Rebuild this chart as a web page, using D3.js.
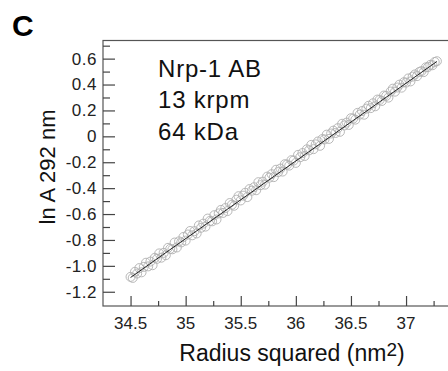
<!DOCTYPE html>
<html>
<head>
<meta charset="utf-8">
<script src="https://cdn.jsdelivr.net/npm/d3@7"></script>
<style>
  body { margin: 0; background: #fff; }
  svg { display: block; font-family: "Liberation Sans", Arial, Helvetica, sans-serif; }
</style>
</head>
<body>
<div id="chart"></div>
<script>
// radius squared (nm^2) of each scan point
var radiusSq = [34.50,34.52,34.54,34.56,34.58,34.60,34.62,34.64,34.66,34.68,
  34.70,34.72,34.74,34.76,34.78,34.80,34.82,34.84,34.86,34.88,
  34.90,34.92,34.94,34.96,34.98,35.00,35.02,35.04,35.06,35.08,
  35.10,35.12,35.14,35.16,35.18,35.20,35.22,35.24,35.26,35.28,
  35.30,35.32,35.34,35.36,35.38,35.40,35.42,35.44,35.46,35.48,
  35.50,35.52,35.54,35.56,35.58,35.60,35.62,35.64,35.66,35.68,
  35.70,35.72,35.74,35.76,35.78,35.80,35.82,35.84,35.86,35.88,
  35.90,35.92,35.94,35.96,35.98,36.00,36.02,36.04,36.06,36.08,
  36.10,36.12,36.14,36.16,36.18,36.20,36.22,36.24,36.26,36.28,
  36.30,36.32,36.34,36.36,36.38,36.40,36.42,36.44,36.46,36.48,
  36.50,36.52,36.54,36.56,36.58,36.60,36.62,36.64,36.66,36.68,
  36.70,36.72,36.74,36.76,36.78,36.80,36.82,36.84,36.86,36.88,
  36.90,36.92,36.94,36.96,36.98,37.00,37.02,37.04,37.06,37.08,
  37.10,37.12,37.14,37.16,37.18,37.20,37.22,37.24,37.26,37.28];

// ln A at 292 nm
var lnA = [-1.085,-1.093,-1.046,-1.059,-1.017,-1.050,-1.008,-0.976,-1.004,-0.967,
  -0.995,-0.938,-0.946,-0.904,-0.937,-0.900,-0.918,-0.861,-0.869,-0.872,
  -0.820,-0.858,-0.811,-0.819,-0.777,-0.805,-0.758,-0.731,-0.764,-0.732,
  -0.750,-0.688,-0.706,-0.674,-0.697,-0.635,-0.653,-0.656,-0.609,-0.642,
  -0.595,-0.568,-0.591,-0.554,-0.577,-0.515,-0.528,-0.536,-0.489,-0.462,
  -0.495,-0.458,-0.436,-0.469,-0.407,-0.420,-0.393,-0.416,-0.354,-0.377,
  -0.350,-0.373,-0.311,-0.319,-0.292,-0.315,-0.258,-0.276,-0.249,-0.272,
  -0.215,-0.218,-0.226,-0.184,-0.187,-0.205,-0.143,-0.161,-0.129,-0.152,
  -0.100,-0.108,-0.066,-0.099,-0.062,-0.040,-0.073,-0.021,-0.024,0.013,
  -0.020,0.022,0.044,0.026,0.063,0.035,0.097,0.084,0.106,0.088,
  0.140,0.137,0.129,0.181,0.168,0.195,0.167,0.214,0.236,0.218,
  0.255,0.232,0.284,0.281,0.273,0.315,0.312,0.299,0.346,0.368,
  0.345,0.377,0.399,0.376,0.418,0.415,0.447,0.424,0.461,0.478,
  0.465,0.497,0.504,0.496,0.533,0.535,0.552,0.549,0.574,0.580];

// fitted line end points
var fitX = [34.5, 37.28];
var fitY = [-1.09, 0.578];

var xTicks = [34.5, 35, 35.5, 36, 36.5, 37];
var xMinor = [34.75, 35.25, 35.75, 36.25, 36.75, 37.25];
var yTicks = [-1.2, -1.0, -0.8, -0.6, -0.4, -0.2, 0, 0.2, 0.4, 0.6];
var yMinor = [-1.1, -0.9, -0.7, -0.5, -0.3, -0.1, 0.1, 0.3, 0.5, 0.7];
var notes = ["Nrp-1 AB", "13 krpm", "64 kDa"];

var W = 448, H = 371;
var svg = d3.select("#chart").append("svg")
    .attr("width", W)
    .attr("height", H);

var plotL = 103, plotR = 450, plotT = 40.5, plotB = 306;

var x = d3.scaleLinear().domain([34.25, 37.4]).range([plotL, plotL + 110.2 * 3.15]);
var y = d3.scaleLinear().domain([-1.31, 0.74]).range([plotB, plotT]);

// frame
svg.append("rect")
    .attr("x", plotL).attr("y", plotT)
    .attr("width", plotR - plotL).attr("height", plotB - plotT)
    .attr("fill", "none").attr("stroke", "#555").attr("stroke-width", 1.2);

// x ticks, pointing in
svg.append("g").attr("transform", "translate(0," + plotB + ")")
    .call(d3.axisTop(x).tickValues(xTicks).tickSize(10).tickFormat(""))
    .select(".domain").remove();
svg.append("g").attr("transform", "translate(0," + plotB + ")")
    .call(d3.axisTop(x).tickValues(xMinor).tickSize(5).tickFormat(""))
    .select(".domain").remove();

svg.append("g").selectAll("text")
    .data(xTicks)
    .enter().append("text")
    .attr("x", function(d) { return x(d); })
    .attr("y", 329)
    .attr("text-anchor", "middle")
    .style("font-size", "17px")
    .style("fill", "#222")
    .text(function(d) { return d; });

// y ticks, pointing in
svg.append("g").attr("transform", "translate(" + plotL + ",0)")
    .call(d3.axisRight(y).tickValues(yTicks).tickSize(12).tickFormat(""))
    .select(".domain").remove();
svg.append("g").attr("transform", "translate(" + plotL + ",0)")
    .call(d3.axisRight(y).tickValues(yMinor).tickSize(7).tickFormat(""))
    .select(".domain").remove();

svg.selectAll(".tick line").attr("stroke", "#444").attr("stroke-width", 1.2);

svg.append("g").selectAll("text")
    .data(yTicks)
    .enter().append("text")
    .attr("x", 97)
    .attr("y", function(d) { return y(d); })
    .attr("dy", "0.35em")
    .attr("text-anchor", "end")
    .style("font-size", "17px")
    .style("letter-spacing", "0.5px")
    .style("fill", "#222")
    .text(function(d) { return d === 0 ? "0" : d.toFixed(1); });

// data points
svg.append("g").selectAll("circle")
    .data(radiusSq)
    .enter().append("circle")
    .attr("cx", function(d) { return x(d); })
    .attr("cy", function(d, i) { return y(lnA[i]); })
    .attr("r", 4.5)
    .attr("fill", "none")
    .attr("stroke", "#b0b0b0")
    .attr("stroke-width", 0.9);

// fit
svg.append("path")
    .datum(fitX)
    .attr("d", d3.line()
        .x(function(d) { return x(d); })
        .y(function(d, i) { return y(fitY[i]); }))
    .attr("fill", "none")
    .attr("stroke", "#222")
    .attr("stroke-width", 1);

// annotation
svg.append("g").selectAll("text")
    .data(notes)
    .enter().append("text")
    .attr("x", 158)
    .attr("y", function(d, i) { return 76.5 + i * 31.7; })
    .style("font-size", "24px")
    .style("letter-spacing", "0.8px")
    .style("fill", "#111")
    .text(function(d) { return d; });

// axis titles
var xt = svg.append("text")
    .attr("x", 292)
    .attr("y", 361)
    .attr("text-anchor", "middle")
    .style("font-size", "23px")
    .style("fill", "#111")
    .text("Radius squared (nm");
xt.append("tspan").attr("dy", -5).style("font-size", "19px").text("2");
xt.append("tspan").attr("dy", 5).text(")");

svg.append("text")
    .attr("transform", "translate(55,167) rotate(-90)")
    .attr("text-anchor", "middle")
    .style("font-size", "22px")
    .style("fill", "#111")
    .text("ln A 292 nm");

// panel letter
svg.append("text")
    .attr("x", 12)
    .attr("y", 36)
    .style("font-size", "30px")
    .style("font-weight", "bold")
    .style("fill", "#000")
    .text("C");
</script>
</body>
</html>
